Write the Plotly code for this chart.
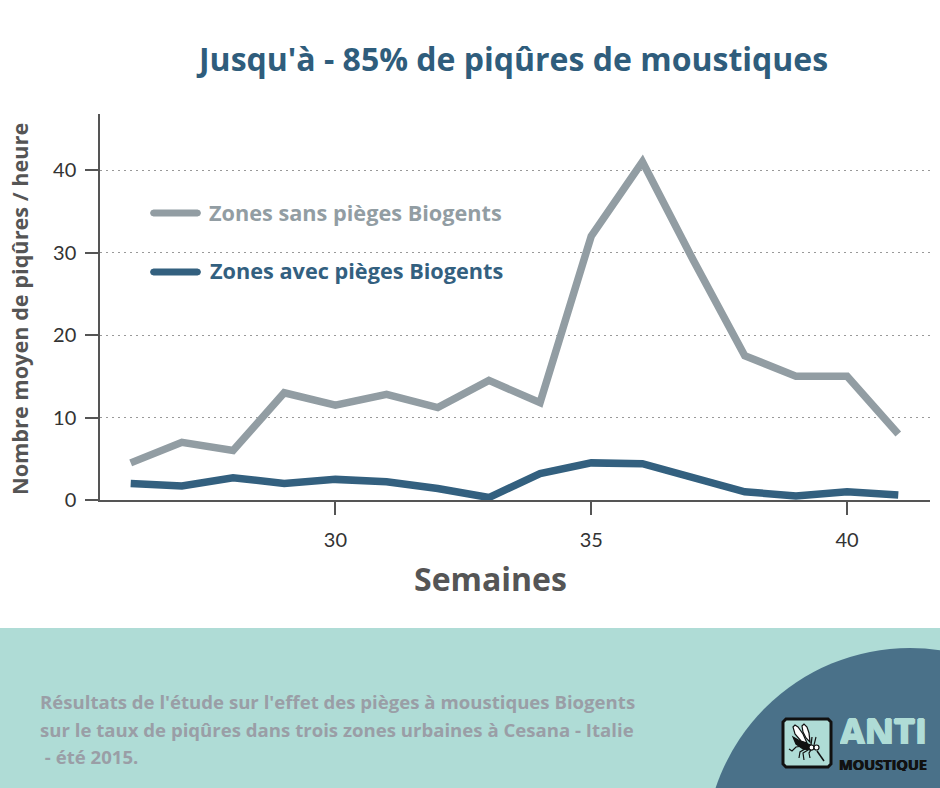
import plotly.graph_objects as go

WIDTH = 940
HEIGHT = 788

GREY = '#929da3'
BLUE = '#33607f'
TEAL = '#afdcd6'
DARK = '#4a7189'


def px(x, y):
    '''
    x, y: pixel position on the page, returns paper coordinates.
    '''
    return x / WIDTH, 1 - y / HEIGHT


def box(x0, y0, x1, y1, **kwargs):
    a, b = px(x0, y1)
    c, d = px(x1, y0)
    return dict(xref='paper', yref='paper', x0=a, y0=b, x1=c, y1=d, **kwargs)


def path(points, close=True, **kwargs):
    pts = [px(x, y) for x, y in points]
    p = 'M ' + ' L '.join(f'{a:.5f},{b:.5f}' for a, b in pts)
    if close:
        p += ' Z'
    return dict(type='path', xref='paper', yref='paper', path=p, **kwargs)


def label(x, y, text, size, color, anchor='left', angle=0, shadow='none', **kwargs):
    a, b = px(x, y)
    return dict(xref='paper', yref='paper', x=a, y=b, text='<b>' + text + '</b>', showarrow=False,
                xanchor=anchor, yanchor='middle', textangle=angle,
                font=dict(family='Open Sans', size=size, color=color, shadow=shadow), **kwargs)


def logo_shapes():
    black = dict(color='#111111', width=1.2)
    shapes = [
        path([(786, 719), (828, 719), (831, 722), (831, 764), (828, 767),
              (786, 767), (783, 764), (783, 722)],
             fillcolor=TEAL, line=dict(color='#111111', width=3), layer='above'),
        # wings
        path([(793, 727), (795, 725), (798, 727), (803, 734), (807, 743), (801, 741), (795, 734)],
             fillcolor='white', line=black, layer='above'),
        path([(802, 726), (804, 724), (807, 727), (809, 733), (810, 742), (806, 738), (803, 732)],
             fillcolor='white', line=black, layer='above'),
        # body
        path([(793, 737), (800, 741), (808, 744), (813, 746), (811, 750),
              (803, 749), (796, 744)],
             fillcolor='#111111', line=black, layer='above'),
        # proboscis
        path([(817, 751), (824, 761)], close=False, line=dict(color='#111111', width=1.5), layer='above'),
        # legs
        path([(803, 746), (796, 747), (792, 751), (789, 749)], close=False, line=black, layer='above'),
        path([(805, 749), (800, 752), (799, 758)], close=False, line=black, layer='above'),
        path([(808, 750), (803, 753), (804, 760)], close=False, line=black, layer='above'),
        path([(811, 750), (809, 753), (810, 758)], close=False, line=black, layer='above'),
        path([(811, 745), (812, 737)], close=False, line=black, layer='above'),
        path([(814, 745), (816, 737)], close=False, line=black, layer='above'),
    ]
    # eyes
    shapes.append(box(809, 745, 814, 750, type='circle', fillcolor='white', line=black, layer='above'))
    shapes.append(box(814, 745, 819, 750, type='circle', fillcolor='white', line=black, layer='above'))
    return shapes


def legend_swatch(y, color):
    x0, x1 = 150, 201
    r = 3.5
    return path([(x0, y), (x0 + 1, y - r + 1), (x0 + r, y - r), (x1 - r, y - r),
                 (x1 - 1, y - r + 1), (x1, y), (x1 - 1, y + r - 1), (x1 - r, y + r),
                 (x0 + r, y + r), (x0 + 1, y + r - 1)],
                fillcolor=color, line=dict(width=0), layer='above')


def plot_bites():

    weeks = list(range(26, 42))
    without_traps = [4.5, 7, 6, 13, 11.5, 12.8, 11.2, 14.5, 11.8, 32, 41, 29, 17.5, 15, 15, 8]
    with_traps = [2, 1.7, 2.7, 2, 2.5, 2.2, 1.4, 0.3, 3.2, 4.5, 4.4, 2.7, 1, 0.5, 1, 0.6]

    fig = go.Figure()
    fig.add_trace(go.Scatter(x=weeks, y=without_traps, mode='lines',
                             line=dict(color=GREY, width=7.5), showlegend=False))
    fig.add_trace(go.Scatter(x=weeks, y=with_traps, mode='lines',
                             line=dict(color=BLUE, width=7.5), showlegend=False))

    fig.update_xaxes(domain=[100 / WIDTH, 930 / WIDTH], range=[25.4, 41.62], automargin=False,
                     tickvals=[30, 35, 40], ticks='outside', ticklen=13, tickwidth=1.5,
                     tickcolor='#555555', showline=True, linecolor='#555555', linewidth=1.5,
                     showgrid=False, zeroline=False, ticklabelstandoff=8,
                     tickfont=dict(family='Lato', size=20, color='#333333'))
    fig.update_yaxes(domain=[1 - 500 / HEIGHT, 1 - 114 / HEIGHT], range=[0, 46.8], automargin=False,
                     tickvals=[0, 10, 20, 30, 40], ticks='outside', ticklen=13, tickwidth=1.5,
                     tickcolor='#555555', showline=True, linecolor='#555555', linewidth=1.5,
                     showgrid=True, gridcolor='#999999', griddash='2px,4px', gridwidth=1,
                     zeroline=False, ticklabelstandoff=5,
                     tickfont=dict(family='Lato', size=20, color='#333333'))

    shapes = [
        box(0, 628, WIDTH, HEIGHT, type='rect', fillcolor=TEAL, line=dict(width=0), layer='below'),
        box(705, 648, 1115, 1058, type='circle', fillcolor=DARK, line=dict(width=0), layer='below'),
        legend_swatch(213, GREY),
        legend_swatch(272, BLUE),
    ] + logo_shapes()

    heavy = '1px 0 0 #afdcd6, -1px 0 0 #afdcd6, 0 1px 0 #afdcd6, 0 -1px 0 #afdcd6'
    annotations = [
        label(512, 59, "Jusqu'à - 85% de piqûres de moustiques", 32, '#2f5d7c', anchor='center'),
        label(490, 578, 'Semaines', 32, '#555555', anchor='center'),
        label(19, 309, 'Nombre moyen de piqûres / heure', 21.7, '#555555', anchor='center', angle=-90),
        label(207, 212, 'Zones sans pièges Biogents', 21.7, GREY),
        label(208, 270, 'Zones avec pièges Biogents', 21.7, BLUE),
        label(38, 701, "Résultats de l'étude sur l'effet des pièges à moustiques Biogents", 18.6, '#9a9ea6'),
        label(38, 729, "sur le taux de piqûres dans trois zones urbaines à Cesana - Italie", 18.6, '#9a9ea6'),
        label(38, 756, " - été 2015.", 18.6, '#9a9ea6'),
        label(883, 731, 'ANTI', 36, TEAL, anchor='center', height=26, shadow=heavy),
        label(883, 764, 'MOUSTIQUE', 14.5, '#111111', anchor='center', height=14,
              shadow='0.4px 0 0 #111111, -0.4px 0 0 #111111'),
    ]

    fig.update_layout(width=WIDTH, height=HEIGHT, autosize=False,
                      margin=dict(l=0, r=0, t=0, b=0),
                      paper_bgcolor='white', plot_bgcolor='white',
                      shapes=shapes, annotations=annotations)

    fig.write_html('out.html', post_script="document.body.style.margin = '0';",
                   config=dict(displayModeBar=False))


if __name__ == '__main__':

    plot_bites()
